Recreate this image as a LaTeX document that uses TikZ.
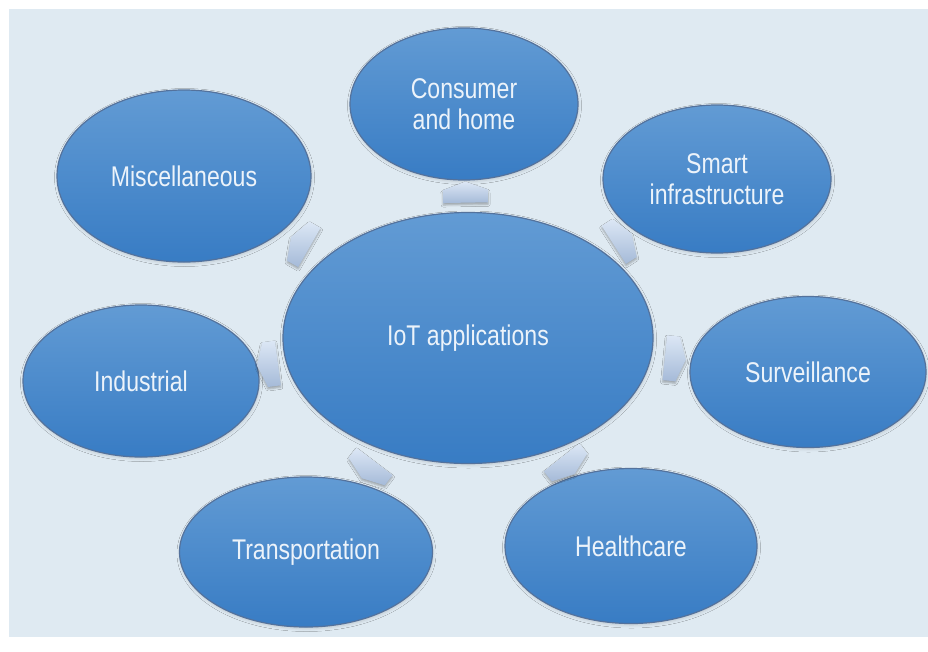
\documentclass[tikz,border=0pt]{standalone}
\usepackage{fontspec}
\setmainfont[FakeStretch=0.81]{Liberation Sans}
\usetikzlibrary{shapes.geometric,shapes.arrows,shadows.blur}

\definecolor{panel}{RGB}{223,234,242}
\definecolor{ellTop}{RGB}{98,155,212}
\definecolor{ellBot}{RGB}{56,124,196}
\definecolor{ellEdge}{RGB}{84,114,156}
\definecolor{arrTop}{RGB}{220,231,245}
\definecolor{arrBot}{RGB}{165,186,216}
\definecolor{label}{RGB}{236,243,250}

\begin{document}
\begin{tikzpicture}[x=1pt,y=-1pt,
  bubble/.style={ellipse, draw=ellEdge, line width=1.2pt,
    top color=ellTop, bottom color=ellBot, inner sep=0pt,
    text=label, font=\fontsize{28.5}{31}\selectfont, align=center,
    blur shadow={shadow xshift=0.5pt, shadow yshift=-1.5pt,
      shadow opacity=15, shadow blur radius=3pt}},
  blk/.style={single arrow, single arrow head extend=0pt,
    single arrow tip angle=140, minimum width=45pt, minimum height=21pt,
    inner sep=0pt, top color=arrTop, bottom color=arrBot,
    blur shadow={shadow xshift=0pt, shadow yshift=-2pt,
      shadow opacity=30, shadow blur radius=2pt}}
]
% page and panel
\fill[white] (0,0) rectangle (928,651);
\useasboundingbox (0,0) rectangle (928,651);
\fill[panel] (9,9) rectangle (928,637);

% hub
\node[bubble, minimum width=370pt, minimum height=251pt] (iot) at (468,338) {IoT applications};

% application areas
\node[bubble, minimum width=228pt, minimum height=152pt] (cons)   at (464,104) {Consumer\\and home};
\node[bubble, minimum width=228pt, minimum height=148pt] (smart)  at (717,179) {Smart\\infrastructure};
\node[bubble, minimum width=254pt, minimum height=172pt] (misc)   at (184,176) {Miscellaneous};
\node[bubble, minimum width=236pt, minimum height=152pt] (ind)    at (141,381) {Industrial};
\node[bubble, minimum width=236pt, minimum height=151pt] (surv)   at (808,372) {Surveillance};
\node[bubble, minimum width=253pt, minimum height=150pt] (trans)  at (306,552) {Transportation};
\node[bubble, minimum width=252pt, minimum height=155pt] (health) at (631,546) {Healthcare};

% outward block arrows in the gaps
\foreach \n in {cons,smart,surv,health,trans,ind,misc}
  \path[allow upside down] (iot) -- node[blk, sloped] {} (\n);
\end{tikzpicture}
\end{document}
